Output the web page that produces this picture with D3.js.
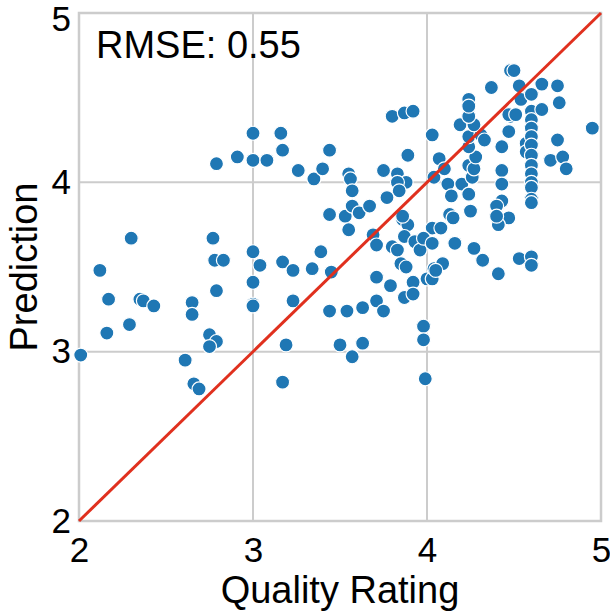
<!DOCTYPE html>
<html>
<head>
<meta charset="utf-8">
<script src="https://cdn.jsdelivr.net/npm/d3@7"></script>
<style>
  html, body { margin: 0; padding: 0; background: #fff; }
  text { font-family: "Liberation Sans", Arial, sans-serif; }
</style>
</head>
<body>
<svg id="chart" width="610" height="615"></svg>
<script>
const xTicks = [2, 3, 4, 5];
const yTicks = [2, 3, 4, 5];
const xLabel = "Quality Rating";
const yLabel = "Prediction";
const annotation = "RMSE: 0.55";

const qualityRating = [
  2.01,2.12,2.17,2.16,2.30,2.29,2.35,2.37,2.43,2.61,2.65,2.65,2.66,2.69,2.75,2.79,2.75,2.77,2.78,2.83,2.79,2.79,2.91,
  3.00,3.00,3.08,3.16,3.17,3.00,3.04,3.00,3.00,3.00,
  3.26,3.35,3.40,3.44,3.17,3.23,3.34,3.39,3.45,3.23,3.44,3.19,3.17,3.44,
  3.55,3.56,3.57,3.75,3.80,3.87,3.92,3.83,3.89,3.88,3.83,3.84,3.77,3.53,3.57,3.61,3.67,3.55,3.86,3.89,3.69,3.71,3.80,3.83,3.87,3.93,3.96,3.85,3.88,3.71,3.79,3.92,3.87,3.92,3.54,3.63,3.71,3.75,3.50,3.57,3.63,3.86,
  4.03,4.04,3.98,3.98,3.99,4.00,4.03,4.03,3.98,4.03,4.04,
  4.07,4.10,4.12,4.20,4.14,4.24,4.26,4.24,4.27,4.28,4.24,4.24,4.31,4.33,4.19,4.27,4.24,4.24,4.24,4.37,4.08,4.13,4.15,4.25,4.16,4.27,4.32,4.09,4.05,
  4.41,4.43,4.43,4.43,4.43,4.40,4.47,4.41,4.40,4.47,4.48,4.47,4.51,4.48,4.50,4.53,4.54,4.57,4.57,4.53,4.60,4.60,
  4.60,4.60,4.60,4.60,4.60,4.60,4.60,4.60,4.60,4.60,4.60,4.60,4.60,
  4.66,4.75,4.76,4.66,4.75,4.71,4.78,4.80,4.95
];
const prediction = [
  2.98,3.48,3.31,3.11,3.67,3.16,3.31,3.30,3.27,2.95,3.29,3.22,2.81,2.78,3.10,3.06,3.03,3.67,3.54,3.54,3.36,4.11,4.15,
  4.29,4.13,4.13,4.29,4.19,3.59,3.51,3.41,3.28,3.27,
  4.07,4.02,4.08,4.19,3.53,3.48,3.49,3.59,3.47,3.30,3.24,3.04,2.82,3.81,
  4.05,4.02,3.95,4.07,4.39,4.41,4.42,4.05,4.16,4.00,4.00,3.95,3.91,3.80,3.86,3.82,3.86,3.72,3.78,3.75,3.69,3.63,3.62,3.60,3.68,3.65,3.60,3.52,3.50,3.44,3.39,3.41,3.32,3.34,3.24,3.26,3.30,3.24,3.04,2.97,3.05,3.80,
  4.28,4.03,3.15,3.07,2.84,3.43,3.43,3.73,3.67,3.64,3.49,
  4.14,4.08,3.99,3.99,3.92,3.93,4.03,4.10,4.08,4.15,4.21,4.27,4.28,4.25,4.34,4.34,4.39,4.49,4.45,4.56,3.73,3.81,3.79,3.83,3.64,3.61,3.54,3.52,3.48,
  3.46,4.21,4.07,3.99,3.89,3.86,3.79,3.75,3.80,4.30,4.39,4.40,4.40,4.66,4.66,4.57,4.49,4.23,4.18,3.55,3.56,3.51,
  4.52,4.42,4.37,4.32,4.27,4.22,4.16,4.10,4.05,4.00,3.97,3.90,3.88,
  4.58,4.57,4.47,4.43,4.25,4.13,4.15,4.08,4.32
];
const points = qualityRating.map((q, i) => ({ x: q, y: prediction[i] }));

const svg = d3.select("#chart");
const mLeft = 79, mRight = 601, mTop = 13, mBottom = 521;

const x = d3.scaleLinear().domain([2, 5]).range([mLeft, mRight]);
const y = d3.scaleLinear().domain([2, 5]).range([mBottom, mTop]);

// grid
const grid = svg.append("g");
grid.selectAll("line.gx").data(xTicks).join("line")
  .attr("x1", d => x(d)).attr("x2", d => x(d))
  .attr("y1", mTop).attr("y2", mBottom)
  .attr("stroke", "#cccccc").attr("stroke-width", 2);
grid.selectAll("line.gy").data(yTicks).join("line")
  .attr("y1", d => y(d)).attr("y2", d => y(d))
  .attr("x1", mLeft).attr("x2", mRight)
  .attr("stroke", "#cccccc").attr("stroke-width", 2);

// frame
svg.append("rect")
  .attr("x", mLeft).attr("y", mTop)
  .attr("width", mRight - mLeft).attr("height", mBottom - mTop)
  .attr("fill", "none").attr("stroke", "#cccccc").attr("stroke-width", 2.5);

// axes (text only)
const xAxis = d3.axisBottom(x).tickValues(xTicks).tickSize(0).tickPadding(14).tickFormat(d3.format("d"));
const gx = svg.append("g").attr("transform", `translate(0,${mBottom + 2})`).call(xAxis);
gx.select(".domain").remove();
gx.selectAll("text").attr("font-size", 35).attr("fill", "#000")
  .attr("font-family", "Liberation Sans, Arial, sans-serif");

const yAxis = d3.axisLeft(y).tickValues(yTicks).tickSize(0).tickPadding(6).tickFormat(d3.format("d"));
const gy = svg.append("g").attr("transform", `translate(${mLeft - 2},0)`).call(yAxis);
gy.select(".domain").remove();
gy.selectAll("text").attr("font-size", 35).attr("fill", "#000")
  .attr("font-family", "Liberation Sans, Arial, sans-serif");
// keep top "5" within the picture
gy.selectAll(".tick").filter(d => d === 5).select("text").attr("dy", "0.5em");

// points
svg.append("g").selectAll("circle").data(points).join("circle")
  .attr("cx", d => x(d.x)).attr("cy", d => y(d.y))
  .attr("r", 7)
  .attr("fill", "#1f77b4")
  .attr("stroke", "#ffffff").attr("stroke-width", 1.2);

// identity line
svg.append("line")
  .attr("x1", x(2)).attr("y1", y(2))
  .attr("x2", x(5)).attr("y2", y(5))
  .attr("stroke", "#e0301e").attr("stroke-width", 3);

// annotation
svg.append("text")
  .attr("x", 96).attr("y", 58)
  .attr("font-size", 38).attr("fill", "#000")
  .text(annotation);

// labels
svg.append("text")
  .attr("x", (mLeft + mRight) / 2).attr("y", 603)
  .attr("text-anchor", "middle").attr("font-size", 38).attr("fill", "#000")
  .text(xLabel);
svg.append("text")
  .attr("transform", `translate(37,${(mTop + mBottom) / 2}) rotate(-90)`)
  .attr("text-anchor", "middle").attr("font-size", 38).attr("fill", "#000")
  .text(yLabel);
</script>
</body>
</html>
